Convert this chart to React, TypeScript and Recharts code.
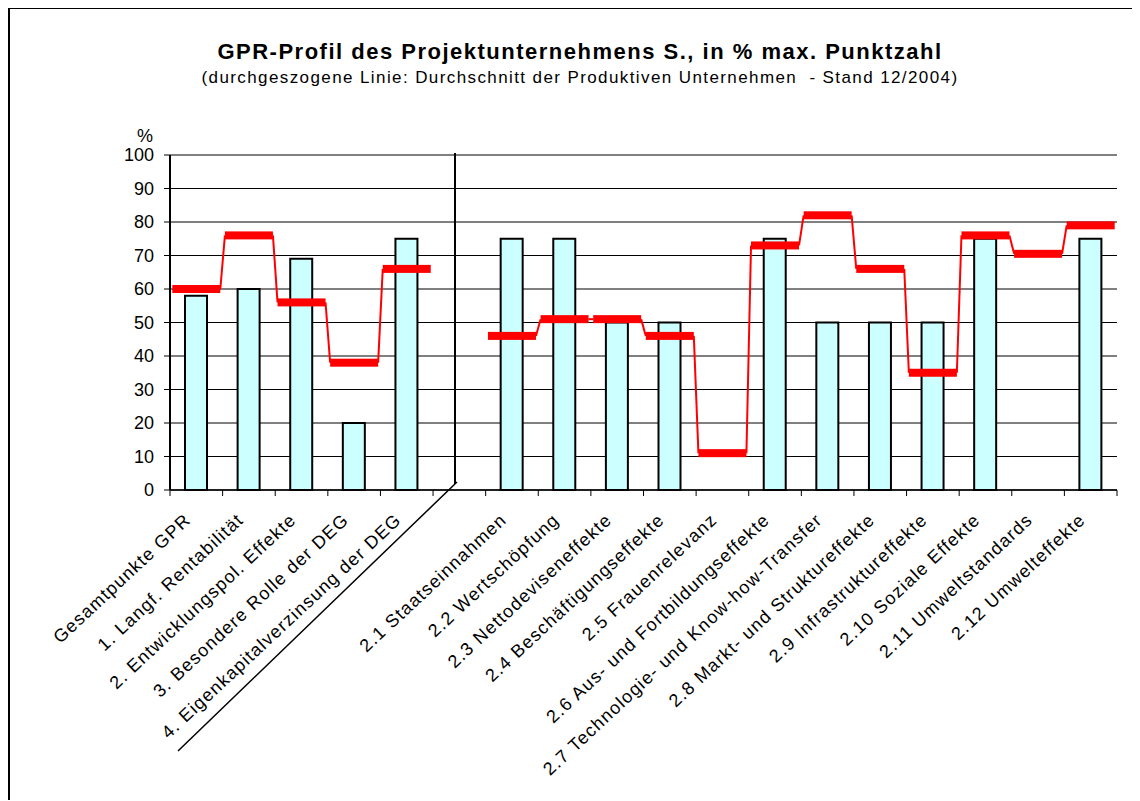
import React from "react";
import { ComposedChart, Bar, Line, XAxis, YAxis, CartesianGrid, ReferenceLine } from "recharts";

const categories = [
  "Gesamtpunkte GPR",
  "1. Langf. Rentabilität",
  "2. Entwicklungspol. Effekte",
  "3. Besondere Rolle der DEG",
  "4. Eigenkapitalverzinsung der DEG",
  "",
  "2.1 Staatseinnahmen",
  "2.2 Wertschöpfung",
  "2.3 Nettodeviseneffekte",
  "2.4 Beschäftigungseffekte",
  "2.5 Frauenrelevanz",
  "2.6 Aus- und Fortbildungseffekte",
  "2.7 Technologie- und Know-how-Transfer",
  "2.8 Markt- und Struktureffekte",
  "2.9 Infrastruktureffekte",
  "2.10 Soziale Effekte",
  "2.11 Umweltstandards",
  "2.12 Umwelteffekte",
];

// Projektunternehmen S. (Säulen)
const projectValues = [58, 60, 69, 20, 75, null, 75, 75, 50, 50, null, 75, 50, 50, 50, 75, null, 75];

// Durchschnitt der produktiven Unternehmen (rote Linie)
const averageValues = [60, 76, 56, 38, 66, null, 46, 51, 51, 46, 11, 73, 82, 66, 35, 76, 70.5, 79];

const yTicks = [0, 10, 20, 30, 40, 50, 60, 70, 80, 90, 100];

const data = categories.map((name, i) => ({
  name,
  projekt: projectValues[i],
  durchschnitt: averageValues[i],
}));

const FONT = "'Liberation Sans', Arial, sans-serif";
const RED = "#ff0000";

const CategoryTick = (props: any) => {
  const { x, y, payload, index } = props;
  const half = payload?.offset || 26.3;
  const last = index === categories.length - 1;
  const ax = x - 13;
  const ay = y + 22;
  return (
    <g>
      <line x1={x - half} y1={y} x2={x - half} y2={y + 6} stroke="#000" strokeWidth={1} />
      {last && <line x1={x + half} y1={y} x2={x + half} y2={y + 6} stroke="#000" strokeWidth={1} />}
      <text
        x={ax}
        y={ay}
        dy="0.71em"
        textAnchor="end"
        transform={`rotate(-43 ${ax} ${ay})`}
        fontSize={18}
        letterSpacing={1.2}
        fontFamily={FONT}
        fill="#000"
      >
        {payload.value}
      </text>
    </g>
  );
};

// thick red dash per category, thin red connector to the next dash
const StepMark = (props: any) => {
  const { cx, cy, index, value, points } = props;
  if (cx == null || cy == null || value == null) return <g key={`m-${index}`} />;
  const half = 24;
  const next = points ? points[index + 1] : null;
  const hasNext = next && next.value != null && next.y != null;
  return (
    <g key={`m-${index}`}>
      {hasNext && (
        <line x1={cx + half} y1={cy} x2={next.x - half} y2={next.y} stroke={RED} strokeWidth={2} />
      )}
      <rect x={cx - half} y={cy - 4} width={half * 2} height={8} fill={RED} />
    </g>
  );
};

export default function App() {
  return (
    <div
      style={{
        position: "relative",
        width: 1132,
        height: 793,
        marginTop: -1,
        borderTop: "2px solid #000",
        borderLeft: "2px solid #000",
        boxSizing: "border-box",
        fontFamily: FONT,
        background: "#fff",
      }}
    >
      <div
        style={{
          position: "absolute",
          left: 0,
          width: 1140,
          top: 32,
          textAlign: "center",
          fontSize: 22,
          letterSpacing: 1.5,
          fontWeight: "bold",
          lineHeight: 1,
          whiteSpace: "nowrap",
        }}
      >
        GPR-Profil des Projektunternehmens S., in % max. Punktzahl
      </div>
      <div
        style={{
          position: "absolute",
          left: 0,
          width: 1140,
          top: 60,
          textAlign: "center",
          fontSize: 17,
          letterSpacing: 1.4,
          lineHeight: 1,
          whiteSpace: "pre",
        }}
      >
        (durchgeszogene Linie: Durchschnitt der Produktiven Unternehmen  - Stand 12/2004)
      </div>
      <div style={{ position: "absolute", left: 125, width: 20, top: 118, textAlign: "center", fontSize: 18, lineHeight: 1 }}>
        %
      </div>

      <div style={{ position: "absolute", left: 0, top: 0 }}>
        <ComposedChart width={1130} height={790} data={data} margin={{ top: 146, right: 23, left: 0, bottom: 9 }}>
          <CartesianGrid vertical={false} stroke="#000" strokeWidth={1} />
          <XAxis
            dataKey="name"
            interval={0}
            height={300}
            tickLine={false}
            tickSize={0}
            tickMargin={0}
            axisLine={{ stroke: "#000", strokeWidth: 1.5 }}
            tick={<CategoryTick />}
          />
          <YAxis
            domain={[0, 100]}
            ticks={yTicks}
            width={160}
            tickSize={6}
            tickMargin={10}
            axisLine={{ stroke: "#000", strokeWidth: 2 }}
            tickLine={{ stroke: "#000" }}
            tick={{ fill: "#000", fontSize: 18, fontFamily: FONT }}
          />
          <YAxis
            yAxisId="r"
            orientation="right"
            domain={[0, 100]}
            width={0}
            tick={false}
            tickLine={false}
            axisLine={{ stroke: "#808080", strokeWidth: 2 }}
          />
          <ReferenceLine y={100} stroke="#808080" strokeWidth={2} />
          <Bar
            dataKey="projekt"
            barSize={22}
            fill="#ccffff"
            stroke="#000"
            strokeWidth={2}
            isAnimationActive={false}
          />
          <Line
            dataKey="durchschnitt"
            stroke="none"
            connectNulls={false}
            dot={StepMark}
            activeDot={false}
            isAnimationActive={false}
          />
        </ComposedChart>
      </div>

      <svg
        width={1130}
        height={790}
        style={{ position: "absolute", left: 0, top: 0, pointerEvents: "none" }}
      >
        <line x1={445} y1={144} x2={445} y2={475} stroke="#000" strokeWidth={2} />
        <line x1={447} y1={473} x2={168} y2={742} stroke="#000" strokeWidth={1.5} />
      </svg>
    </div>
  );
}
